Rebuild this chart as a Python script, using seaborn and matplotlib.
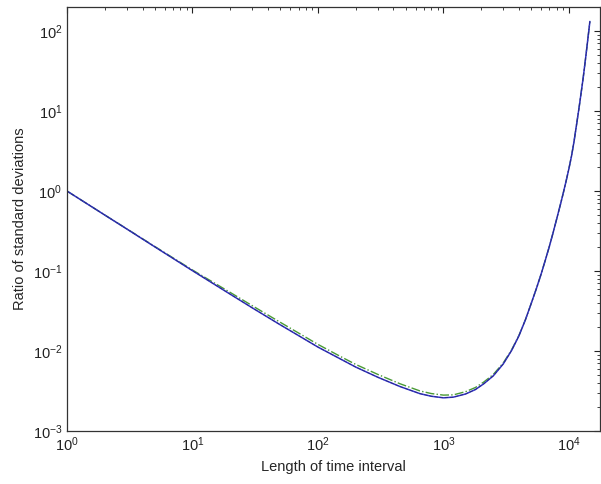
import numpy as np
import pandas as pd
import matplotlib
matplotlib.use("Agg")
import matplotlib.pyplot as plt
import seaborn as sns

# values (log-log)
interval_len = [1, 2, 3, 5, 10, 20, 30, 50, 70, 100, 150, 200, 300, 450, 650,
                800, 1000, 1200, 1500, 1800, 2100, 2500, 3000, 3500, 4000,
                4500, 5000, 5500, 6000, 6500, 7000, 7500, 8000, 8500, 9000,
                9500, 10000, 10500, 11000, 11500, 12000, 12500, 13000, 13500,
                14000, 14700]
ratio_blue = [1.0, 0.501, 0.335, 0.201, 0.101, 0.0513, 0.0346, 0.0213, 0.0156,
              0.0112, 0.0080, 0.0063, 0.0047, 0.0036, 0.00293, 0.00272, 0.0026,
              0.00265, 0.0029, 0.0033, 0.0039, 0.0049, 0.0069, 0.0102, 0.0155,
              0.0245, 0.039, 0.060, 0.091, 0.138, 0.205, 0.305, 0.45, 0.65,
              0.93, 1.33, 1.9, 2.75, 4.2, 6.7, 10.5, 16.6, 26, 42, 68, 132]
ratio_green = [1.0, 0.502, 0.337, 0.203, 0.103, 0.0540, 0.0368, 0.0229, 0.0168,
               0.0121, 0.0086, 0.0068, 0.0051, 0.0039, 0.00317, 0.00294, 0.00281,
               0.00283, 0.0031, 0.0035, 0.0041, 0.0051, 0.0071, 0.0104, 0.0157,
               0.0245, 0.039, 0.060, 0.091, 0.138, 0.205, 0.305, 0.45, 0.65,
               0.93, 1.33, 1.9, 2.75, 4.2, 6.7, 10.5, 16.6, 26, 42, 68, 132]
ratio_black = [1.0, 0.501, 0.335, 0.201, 0.101, 0.0513, 0.0346, 0.0213, 0.0156,
               0.0112, 0.0080, 0.0063, 0.0047, 0.0036, 0.00293, 0.00272, 0.0026,
               0.00265, 0.0029, 0.0033, 0.0039, 0.0049, 0.0069, 0.0102, 0.0155,
               0.0245, 0.039, 0.060, 0.091, 0.138, 0.205, 0.305, 0.45, 0.65,
               0.93, 1.33, 1.9, 2.75, 4.2, 6.7, 10.5, 16.6, 26, 42, 68, 132]

sns.set_style("white")
plt.rcParams['font.family'] = ['Liberation Sans', 'DejaVu Sans']
plt.rcParams['mathtext.fontset'] = 'custom'
plt.rcParams['mathtext.rm'] = 'Liberation Sans'

fig = plt.figure(figsize=(6.01, 4.84), dpi=100)
ax = fig.add_axes([67 / 601, 1 - 431 / 484, (600 - 67) / 601, (431 - 7) / 484])

df = pd.DataFrame({'x': interval_len, 'blue': ratio_blue,
                   'green': ratio_green, 'black': ratio_black})

sns.lineplot(data=df, x='x', y='green', ax=ax, color='#4a9a35',
             linestyle='-.', linewidth=1.0)
sns.lineplot(data=df, x='x', y='blue', ax=ax, color='#3535d0',
             linestyle='-', linewidth=1.1)
sns.lineplot(data=df, x='x', y='black', ax=ax, color='#1a1a40',
             linestyle='--', linewidth=0.7, alpha=0.5)

ax.set_xscale('log')
ax.set_yscale('log')
ax.set_xlim(1, 1.77e4)
ax.set_ylim(1e-3, 2e2)

ax.set_xlabel('Length of time interval', fontsize=10.5)
ax.set_ylabel('Ratio of standard deviations', fontsize=10.5)

ax.tick_params(which='both', direction='in', top=True, right=True,
               labelsize=10.5, colors='#222222')
ax.tick_params(which='major', length=4, width=0.8)
ax.tick_params(which='minor', length=2, width=0.6)
for s in ax.spines.values():
    s.set_color('#333333')
    s.set_linewidth(0.9)

fig.savefig('out.png', dpi=100)
